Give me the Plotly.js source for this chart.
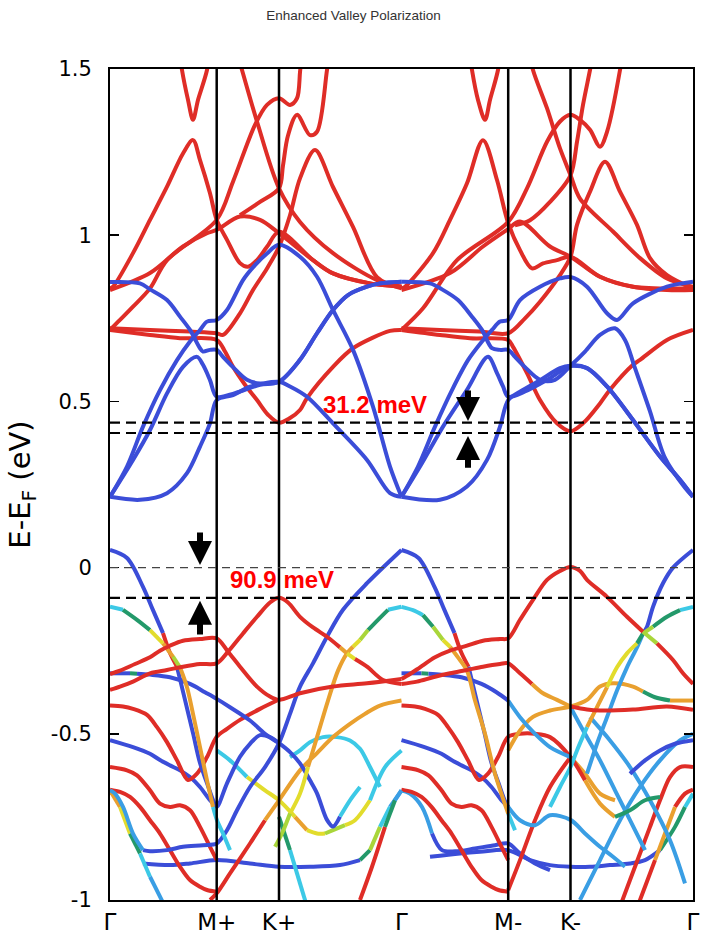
<!DOCTYPE html>
<html><head><meta charset="utf-8">
<script src="https://cdn.plot.ly/plotly-3.0.1.min.js"></script>
<style>html,body{margin:0;padding:0;background:#fff}#chart{width:707px;height:942px}</style>
</head><body><div id="chart"></div>
<script>
// ---- axis data ----
const kTicks = [0, 106.7, 169, 291.5, 398.2, 460.5, 583];
const kLabels = ['Γ', 'M+', 'K+', 'Γ', 'M-', 'K-', 'Γ'];
const kVertical = [106.7, 169, 398.2, 460.5];
const eTicks = [-1, -0.5, 0, 0.5, 1, 1.5];
const eTickText = ['-1', '-0.5', '0', '0.5', '1', '1.5'];
const eFermi = 0.0;
const eVBK = -0.0909;
const eCBKp = 0.436;
const eCBKm = 0.405;

// ---- bands: k (path coordinate), E (eV), w (projection weight 0..10) ----
// upper, left half
const bBL1_k = [0,30,57,77,90,100,106.7,123,140,169,180,197,223,257,280,291.5];
const bBL1_e = [0.213,0.204,0.224,0.284,0.364,0.434,0.504,0.519,0.544,0.559,0.545,0.514,0.434,0.324,0.224,0.213];
const bBL2_k = [0,23,40,57,73,87,93,100,106.7,125,150,169,190,207,223,238,257,270,291.5];
const bBL2_e = [0.213,0.324,0.414,0.524,0.604,0.634,0.61,0.564,0.514,0.525,0.55,0.559,0.625,0.705,0.775,0.82,0.845,0.855,0.86];
const bBL3_k = [0,17,33,50,67,80,90,97,106.7,117,133,145,157,169,190,207,223,243,263,280,291.5];
const bBL3_e = [0.213,0.304,0.424,0.534,0.624,0.68,0.715,0.74,0.745,0.775,0.865,0.91,0.945,0.971,0.935,0.875,0.775,0.655,0.484,0.304,0.213];
const bBL4_k = [0,30,40,57,70,80,90,93,100,106.7,113,123,137,150,169,190,207,223,238,257,270,291.5];
const bBL4_e = [0.859,0.855,0.837,0.805,0.755,0.715,0.66,0.65,0.655,0.655,0.634,0.603,0.565,0.554,0.559,0.625,0.705,0.775,0.82,0.845,0.855,0.86];
const bS1_k = [0,40,70,106.7,115,123,135,147,158,169,180,190,197,223,243,280,291.5];
const bS1_e = [0.715,0.70,0.69,0.685,0.65,0.604,0.55,0.504,0.46,0.436,0.45,0.474,0.51,0.604,0.66,0.712,0.715];
const bS2_k = [0,40,80,106.7,113,130,143,157,169,180,190,205,223,243,267,291.5];
const bS2_e = [0.72,0.715,0.71,0.705,0.70,0.765,0.835,0.90,0.965,1.06,1.171,1.256,1.145,1.025,0.874,0.84];
const bS3_k = [0,3,23,40,57,73,83,90,100,106.7,117,130,138,147,157,169,203,223,260,291.5];
const bS3_e = [0.84,0.845,0.946,1.046,1.146,1.246,1.286,1.226,1.126,1.046,0.986,0.916,0.905,0.925,0.965,1.01,0.925,0.885,0.855,0.845];
const bS4_k = [0,40,73,97,106.7,130,150,169,203,223,260,291.5];
const bS4_e = [0.835,0.886,0.966,1.006,1.016,1.056,1.046,1.006,0.925,0.885,0.855,0.845];
const bS5_k = [0,10,23,40,57,106.7,123,145,157,169,180,187,190,192];
const bS5_e = [0.715,0.745,0.785,0.84,0.925,1.046,1.161,1.332,1.392,1.412,1.392,1.412,1.49,1.56];
const bS6_k = [68,72,78,83,88,97,101];
const bS6_e = [1.587,1.497,1.407,1.347,1.407,1.497,1.587];
const bS7_k = [125,132,147,169,190,223,267,291.5];
const bS7_e = [1.57,1.497,1.342,1.141,1.04,0.946,0.865,0.845];
const bS8_k = [130,150,169,173,178,187,200,207,217,220];
const bS8_e = [1.06,1.10,1.141,1.21,1.30,1.362,1.301,1.311,1.497,1.56];
// upper, right half
const bBR1_k = [291.5,330,357,377,390,398.2,410,430,450,460.5,477,497,523,550,570,583];
const bBR1_e = [0.213,0.204,0.244,0.324,0.424,0.504,0.529,0.564,0.60,0.607,0.60,0.545,0.444,0.334,0.264,0.213];
const bBR2_k = [291.5,310,333,357,378,387,393,398.2,415,440,460.5,477,497,523,550,570,583];
const bBR2_e = [0.213,0.304,0.424,0.535,0.634,0.585,0.545,0.514,0.53,0.57,0.607,0.60,0.545,0.444,0.334,0.264,0.213];
const bBR3_k = [291.5,308,325,342,358,372,382,390,398.2,410,430,450,460.5,477,497,507,523,557,583];
const bBR3_e = [0.213,0.304,0.424,0.534,0.624,0.68,0.715,0.74,0.745,0.805,0.845,0.87,0.874,0.845,0.765,0.745,0.795,0.845,0.86];
const bBR4_k = [291.5,320,332,348,362,372,382,390,398.2,405,415,430,445,460.5,475,490,505,515,525,540,555,575,583];
const bBR4_e = [0.86,0.855,0.837,0.805,0.755,0.715,0.66,0.655,0.655,0.634,0.603,0.565,0.565,0.607,0.65,0.70,0.72,0.685,0.60,0.47,0.33,0.24,0.213];
const bRR1_k = [291.5,330,360,398.2,403,417,430,447,460.5,473,490,500,523,530,557,583];
const bRR1_e = [0.715,0.70,0.69,0.685,0.664,0.585,0.504,0.434,0.41,0.434,0.494,0.535,0.61,0.625,0.685,0.715];
const bRR2_k = [291.5,330,370,398.2,415,430,450,460.5,467,480,495,510,527,540,557,583];
const bRR2_e = [0.72,0.715,0.71,0.705,0.75,0.80,0.88,0.935,1.031,1.131,1.221,1.131,1.031,0.931,0.88,0.84];
const bRR3_k = [291.5,295,323,340,357,373,387,398.2,410,422,433,447,460.5,490,523,557,583];
const bRR3_e = [0.84,0.845,0.946,1.046,1.156,1.286,1.166,1.036,0.955,0.90,0.915,0.925,0.935,0.875,0.845,0.835,0.835];
const bRR4_k = [291.5,340,373,397,410,440,460.5,490,523,583];
const bRR4_e = [0.835,0.886,0.966,1.016,1.041,0.966,0.935,0.875,0.845,0.84];
const bRR5_k = [291.5,313,347,398.2,417,437,450,460.5,470,480,490,497,510,513];
const bRR5_e = [0.715,0.78,0.925,1.04,1.141,1.281,1.342,1.362,1.347,1.317,1.266,1.311,1.497,1.56];
const bRR6_k = [358,362,368,375,380,388,392];
const bRR6_e = [1.587,1.497,1.407,1.347,1.407,1.497,1.587];
const bRR7_k = [418,423,437,450,460.5,470,503,530,557,583];
const bRR7_e = [1.57,1.497,1.382,1.261,1.181,1.11,1.011,0.931,0.87,0.845];
const bRR8_k = [405,420,440,460.5,467,473,480,484];
const bRR8_e = [1.03,1.045,1.10,1.18,1.281,1.392,1.497,1.56];

// lower, left half
const bLa_k = [0,10,23,40,57,73,90,106.7,118,133,147,160,169,178,190,203,217,230,237,245,257,273,291.5];
const bLa_e = [-0.368,-0.358,-0.343,-0.318,-0.308,-0.298,-0.29,-0.288,-0.253,-0.198,-0.148,-0.105,-0.091,-0.105,-0.148,-0.18,-0.208,-0.24,-0.258,-0.275,-0.298,-0.338,-0.35];
const bLa_w = [10,10,10,10,10,10,10,10,10,10,10,10,10,10,10,10,10,8,7,10,10,10,10];
const bLb_k = [0,10,25,40,50,60,73,90,106.7,118,130,147,160,169,190,223,257,291.5];
const bLb_e = [-0.32,-0.31,-0.29,-0.27,-0.25,-0.235,-0.22,-0.215,-0.213,-0.253,-0.298,-0.358,-0.388,-0.398,-0.378,-0.358,-0.348,-0.335];
const bLc_k = [0,13,27,40,53,63,70,77,83,90,97,103,107,113,120];
const bLc_e = [-0.118,-0.127,-0.157,-0.188,-0.228,-0.268,-0.30,-0.36,-0.44,-0.54,-0.64,-0.72,-0.76,-0.80,-0.85];
const bLc_w = [3,5,5,7,8,6,8,8,8,8,8,3,3,3,3];
const bLc2_k = [291.5,278,268,258,250,243,237,228,218,208,198,190,180,172,165];
const bLc2_e = [-0.118,-0.127,-0.157,-0.188,-0.218,-0.238,-0.258,-0.31,-0.40,-0.50,-0.60,-0.68,-0.74,-0.80,-0.84];
const bLc2_w = [3,5,5,6,7,8,8,8,8,8,7,7,6,6,6];
const bL1_k = [0,17,33,43,53,60,67,75,83,90,97,103,106.7,117,130,140,150,160,169,180,190,200,207,217,223,230,240,250];
const bL1_e = [0.053,0.029,-0.058,-0.128,-0.197,-0.257,-0.298,-0.398,-0.498,-0.588,-0.648,-0.699,-0.72,-0.649,-0.569,-0.53,-0.504,-0.51,-0.528,-0.555,-0.589,-0.64,-0.679,-0.759,-0.779,-0.749,-0.70,-0.66];
const bL1_w = [0,0,0,0,10,10,0,0,0,0,0,0,0,0,0,0,0,0,0,0,0,0,0,0,0,3,3,3];
const bL2_k = [291.5,257,233,217,203,190,180,169,155,140,127,117,106.7,93,73,57,40,33,23,13,5,0];
const bL2_e = [0.053,-0.047,-0.127,-0.208,-0.288,-0.358,-0.44,-0.528,-0.60,-0.66,-0.73,-0.79,-0.83,-0.835,-0.84,-0.85,-0.853,-0.85,-0.80,-0.72,-0.68,-0.67];
const bL2_w = [0,0,0,0,0,0,0,0,0,0,0,0,0,0,0,0,0,2,2,2,2,2];
const bLo_k = [0,20,27,40,60,80,95,106.7,120,140,155,169];
const bLo_e = [-0.318,-0.318,-0.319,-0.322,-0.33,-0.35,-0.375,-0.395,-0.42,-0.46,-0.50,-0.528];
const bLo_w = [0,5,0,0,0,0,0,0,0,0,0,0];
const bLd_k = [0,23,40,50,60,70,80,90,100,106.7];
const bLd_e = [-0.519,-0.54,-0.56,-0.579,-0.595,-0.61,-0.63,-0.66,-0.70,-0.72];
const bLe_k = [0,13,23,37,47,57,67,78,87,97,106.7,117,130,150,167];
const bLe_e = [-0.415,-0.418,-0.425,-0.443,-0.48,-0.525,-0.58,-0.639,-0.62,-0.57,-0.509,-0.485,-0.458,-0.425,-0.40];
const bLf_k = [0,17,27,40,50,60,70,80,90,100,106.7];
const bLf_e = [-0.60,-0.61,-0.625,-0.67,-0.71,-0.72,-0.715,-0.73,-0.78,-0.84,-0.88];
const bLg_k = [0,10,20,30,40,50,60,70,80,90,97,106.7];
const bLg_e = [-0.668,-0.675,-0.69,-0.72,-0.76,-0.80,-0.85,-0.90,-0.94,-0.96,-0.97,-0.975];
const bLh_k = [0,10,20,30,40,45,50,55];
const bLh_e = [-0.67,-0.72,-0.80,-0.86,-0.93,-0.96,-0.99,-1.02];
const bLh_w = [8,7,5,3,2,2,2,2];
const bLi_k = [33,60,80,106.7,140,169,200,230,250,260,270,280,291.5];
const bLi_e = [-0.89,-0.895,-0.89,-0.88,-0.89,-0.90,-0.90,-0.895,-0.88,-0.85,-0.78,-0.72,-0.67];
const bLi_w = [0,0,0,0,0,0,0,0,5,6,3,2,2];
const bLj_k = [100,106.7,120,140,155,169,190,207,223,240,255,270,291.5];
const bLj_e = [-1.0,-0.98,-0.92,-0.83,-0.76,-0.70,-0.61,-0.558,-0.51,-0.47,-0.44,-0.415,-0.40];
const bLj_w = [10,10,10,10,8,8,8,8,8,8,8,8,8];
const bLk_k = [106.7,120,137,155,169,185,197,207,215,223,235,245,260,275,291.5];
const bLk_e = [-0.55,-0.58,-0.63,-0.67,-0.70,-0.75,-0.79,-0.80,-0.80,-0.79,-0.775,-0.76,-0.70,-0.60,-0.55];
const bLk_w = [3,3,7,7,7,8,7,7,6,6,7,7,3,3,3];
const bLl_k = [180,190,200,213,227,240,250,260,270];
const bLl_e = [-0.57,-0.55,-0.525,-0.51,-0.51,-0.52,-0.545,-0.60,-0.66];
const bLm_k = [169,180,190,200];
const bLm_e = [-0.75,-0.85,-0.95,-1.05];
const bLm_w = [5,3,3,3];
const bLn_k = [250,262,275,285,291.5];
const bLn_e = [-1.0,-0.9,-0.78,-0.7,-0.67];
const bLn_w = [10,10,5,2,2];

// lower, right half
const bRa_k = [291.5,307,323,340,357,373,390,398.2,410,422,433,447,460.5,477,490,523,557,583];
const bRa_e = [-0.35,-0.343,-0.33,-0.318,-0.308,-0.298,-0.29,-0.288,-0.318,-0.35,-0.378,-0.398,-0.418,-0.427,-0.43,-0.427,-0.418,-0.428];
const bRa_w = [10,10,10,10,10,10,10,10,10,8,8,8,10,10,10,10,10,10];
const bRb_k = [291.5,300,310,325,340,357,373,390,398.2,410,423,437,450,460.5,470,477,497,517,533,547,563,573,583];
const bRb_e = [-0.335,-0.32,-0.30,-0.27,-0.25,-0.235,-0.22,-0.215,-0.213,-0.157,-0.097,-0.037,-0.01,0.002,-0.01,-0.037,-0.088,-0.148,-0.193,-0.228,-0.278,-0.318,-0.35];
const bRb_w = [10,10,10,10,10,10,10,10,10,10,10,10,10,10,10,10,10,10,6,10,10,10,10];
const bRc_k = [291.5,303,313,323,333,340,348,357,365,375,385,398.2,405];
const bRc_e = [-0.118,-0.128,-0.143,-0.178,-0.218,-0.238,-0.27,-0.31,-0.40,-0.50,-0.62,-0.74,-0.79];
const bRc_w = [3,3,5,6,7,8,8,8,8,8,8,3,3];
const bRc2_k = [583,570,557,543,533,527,517,507,497,487,477,467,460.5,450,440];
const bRc2_e = [-0.118,-0.128,-0.148,-0.178,-0.198,-0.228,-0.258,-0.30,-0.36,-0.42,-0.48,-0.55,-0.60,-0.66,-0.72];
const bRc2_w = [3,5,5,6,5,7,7,7,8,8,3,3,3,3,3];
const bR1_k = [291.5,308.5,324.5,334.5,344.5,351.5,358.5,366.5,374.5,381.5,388.5,394.5,398.2,410,425,440,460.5,475,490,503,515];
const bR1_e = [0.053,0.029,-0.058,-0.128,-0.197,-0.257,-0.298,-0.398,-0.498,-0.588,-0.648,-0.699,-0.72,-0.76,-0.775,-0.745,-0.759,-0.80,-0.84,-0.87,-0.90];
const bR1_w = [0,0,0,0,10,10,0,0,0,0,0,0,2,2,2,2,2,2,2,2,2];
const bR2_k = [583,563,553,543,537,533,527,517,507,497,487,477];
const bR2_e = [0.053,0.0,-0.047,-0.118,-0.178,-0.198,-0.24,-0.30,-0.37,-0.45,-0.53,-0.62];
const bR2_w = [0,0,0,0,0,2,2,2,2,2,2,2];
const bR3_k = [291.5,300,312,322,332,348,365,385,398.2,410,425,440];
const bR3_e = [-0.67,-0.68,-0.72,-0.80,-0.85,-0.853,-0.845,-0.835,-0.83,-0.86,-0.89,-0.91];
const bR3_w = [2,2,2,0,0,0,0,0,0,0,0,0];
const bRo_k = [291.5,311.5,318.5,331.5,351.5,371.5,386.5,398.2,410,425,440,460.5];
const bRo_e = [-0.318,-0.318,-0.319,-0.322,-0.33,-0.35,-0.375,-0.40,-0.45,-0.50,-0.54,-0.57];
const bRo_w = [0,5,0,0,0,0,0,2,2,2,2,2];
const bRd_k = [398.2,410,423,440,460.5,477,490,503,523,533,545,560,575,583];
const bRd_e = [-0.55,-0.49,-0.449,-0.43,-0.418,-0.398,-0.358,-0.348,-0.358,-0.373,-0.39,-0.40,-0.40,-0.40];
const bRd_w = [8,8,8,8,8,8,8,8,8,5,5,8,8,8];
const bRe_k = [291.5,305,315,328,338,348,358,369,378,388,398.2,410,425,440,460.5,475,490,505,520,535,550];
const bRe_e = [-0.415,-0.418,-0.425,-0.443,-0.48,-0.525,-0.58,-0.639,-0.62,-0.57,-0.509,-0.50,-0.50,-0.51,-0.57,-0.64,-0.71,-0.75,-0.73,-0.70,-0.69];
const bRe_w = [10,10,10,10,10,10,10,10,10,10,10,10,10,10,10,8,8,5,5,5,5];
const bRf_k = [583,570,560,550,540,530,520,510];
const bRf_e = [-0.60,-0.60,-0.63,-0.70,-0.78,-0.86,-0.94,-1.02];
const bRg_k = [583,575,565,555,545,535,525];
const bRg_e = [-0.668,-0.68,-0.72,-0.80,-0.88,-0.96,-1.04];
const bRg_w = [10,10,8,8,10,10,10];
const bRf2_k = [291.5,308.5,318.5,331.5,341.5,351.5,361.5,371.5,381.5,391.5,398.2];
const bRf2_e = [-0.60,-0.61,-0.625,-0.67,-0.71,-0.72,-0.715,-0.73,-0.78,-0.84,-0.88];
const bRg2_k = [291.5,301.5,311.5,321.5,331.5,341.5,351.5,361.5,371.5,381.5,388.5,398.2];
const bRg2_e = [-0.668,-0.675,-0.69,-0.72,-0.76,-0.80,-0.85,-0.90,-0.94,-0.96,-0.97,-0.975];
const bRi_k = [320,350,370,398.2,420,440,460.5,480,500,520,535,550,565,575,583];
const bRi_e = [-0.87,-0.86,-0.855,-0.85,-0.88,-0.895,-0.90,-0.90,-0.895,-0.89,-0.88,-0.85,-0.78,-0.72,-0.68];
const bRi_w = [0,0,0,0,0,0,0,0,0,0,0,5,5,3,2];
const bRj_k = [398.2,410,425,440,460.5,475,490,505];
const bRj_e = [-0.97,-0.88,-0.76,-0.66,-0.57,-0.62,-0.68,-0.70];
const bRj_w = [10,10,10,10,8,8,8,8];
const bRm1_k = [460.5,475,490,505,520,535];
const bRm1_e = [-0.42,-0.50,-0.58,-0.67,-0.76,-0.85];
const bRm2_k = [480,500,520,540,560,575];
const bRm2_e = [-0.45,-0.52,-0.60,-0.70,-0.82,-0.95];
const bRm3_k = [470,490,510,530,550,570,583];
const bRm3_e = [-1.0,-0.88,-0.76,-0.66,-0.58,-0.52,-0.50];
const bRn_k = [583,565,550,535,520];
const bRn_e = [-0.519,-0.53,-0.55,-0.58,-0.62];
const bLd2_k = [291.5,314.5,331.5,341.5,351.5,361.5,371.5,381.5,391.5,398.2];
const bLd2_e = [-0.519,-0.54,-0.56,-0.579,-0.595,-0.61,-0.63,-0.66,-0.70,-0.72];

// ---- styles ----
const jet = {0:'#3b4dd8',2:'#3a9ee4',3:'#3cc9e6',5:'#23996a',6:'#a9d63a',7:'#e2dc2c',8:'#e9a02f',10:'#df2d27'};
const LW = 4;
const traces = [];
function addBand(k, e, w) {
  const n = k.length;
  const wa = Array.isArray(w) ? w : new Array(n).fill(w);
  let s = 0;
  for (let i = 1; i < n; i++) {
    if (i === n - 1 || wa[i] !== wa[s]) {
      traces.push({x: k.slice(s, i + 1), y: e.slice(s, i + 1), type: 'scatter', mode: 'lines',
        line: {color: jet[wa[s]], width: LW, shape: 'spline', smoothing: 0.9},
        hoverinfo: 'skip', showlegend: false});
      s = i;
    }
  }
}
// lower bands
addBand(bLi_k,bLi_e,bLi_w); addBand(bRi_k,bRi_e,bRi_w); addBand(bR3_k,bR3_e,bR3_w);
addBand(bLg_k,bLg_e,10); addBand(bRg_k,bRg_e,bRg_w); addBand(bRg2_k,bRg2_e,10);
addBand(bLf_k,bLf_e,10); addBand(bRf_k,bRf_e,10); addBand(bRf2_k,bRf2_e,10);
addBand(bLh_k,bLh_e,bLh_w); addBand(bLm_k,bLm_e,bLm_w); addBand(bLn_k,bLn_e,bLn_w);
addBand(bRm1_k,bRm1_e,2); addBand(bRm2_k,bRm2_e,2); addBand(bRm3_k,bRm3_e,2);
addBand(bLd_k,bLd_e,0); addBand(bLd2_k,bLd2_e,0); addBand(bRn_k,bRn_e,0);
addBand(bLl_k,bLl_e,3); addBand(bLk_k,bLk_e,bLk_w); addBand(bLj_k,bLj_e,bLj_w); addBand(bRj_k,bRj_e,bRj_w);
addBand(bLe_k,bLe_e,10); addBand(bRe_k,bRe_e,bRe_w); addBand(bRd_k,bRd_e,bRd_w);
addBand(bLo_k,bLo_e,bLo_w); addBand(bRo_k,bRo_e,bRo_w);
addBand(bL2_k,bL2_e,bL2_w); addBand(bL1_k,bL1_e,bL1_w); addBand(bR1_k,bR1_e,bR1_w); addBand(bR2_k,bR2_e,bR2_w);
addBand(bLc_k,bLc_e,bLc_w); addBand(bLc2_k,bLc2_e,bLc2_w); addBand(bRc_k,bRc_e,bRc_w); addBand(bRc2_k,bRc2_e,bRc2_w);
addBand(bLb_k,bLb_e,10); addBand(bLa_k,bLa_e,bLa_w); addBand(bRa_k,bRa_e,bRa_w); addBand(bRb_k,bRb_e,bRb_w);
// upper red
[[bS1_k,bS1_e],[bS2_k,bS2_e],[bS3_k,bS3_e],[bS4_k,bS4_e],[bS5_k,bS5_e],[bS6_k,bS6_e],[bS7_k,bS7_e],[bS8_k,bS8_e],
 [bRR1_k,bRR1_e],[bRR2_k,bRR2_e],[bRR3_k,bRR3_e],[bRR4_k,bRR4_e],[bRR5_k,bRR5_e],[bRR6_k,bRR6_e],[bRR7_k,bRR7_e],[bRR8_k,bRR8_e]]
 .forEach(b => addBand(b[0], b[1], 10));
// upper blue
[[bBL1_k,bBL1_e],[bBL2_k,bBL2_e],[bBL3_k,bBL3_e],[bBL4_k,bBL4_e],[bBR1_k,bBR1_e],[bBR2_k,bBR2_e],[bBR3_k,bBR3_e],[bBR4_k,bBR4_e]]
 .forEach(b => addBand(b[0], b[1], 0));

const shapes = [];
kVertical.forEach(k => shapes.push({type:'line', xref:'x', yref:'paper', x0:k, x1:k, y0:0, y1:1, line:{color:'#000', width:2.5}}));
shapes.push({type:'line', xref:'paper', yref:'y', x0:0, x1:1, y0:eFermi, y1:eFermi, line:{color:'#444', width:1.3, dash:'8px,6px'}});
[eVBK, eCBKp, eCBKm].forEach(e => shapes.push({type:'line', xref:'paper', yref:'y', x0:0, x1:1, y0:e, y1:e, line:{color:'#000', width:2.2, dash:'10px,6px'}}));

function arrow(k, eTip, eTail) {
  return {x:k, y:eTip, ax:k, ay:eTail, xref:'x', yref:'y', axref:'x', ayref:'y', showarrow:true,
    arrowhead:2, arrowsize:0.8, arrowwidth:6, arrowcolor:'#000', text:''};
}
const annotations = [
  arrow(90, 0.008, 0.11), arrow(90, -0.10, -0.206),
  arrow(358, 0.441, 0.537), arrow(358, 0.396, 0.296),
  {x:172, y:-0.036, xref:'x', yref:'y', text:'<b>90.9 meV</b>', showarrow:false, font:{size:24, color:'#ff0000', family:'Liberation Sans, Arial, sans-serif'}},
  {x:265, y:0.492, xref:'x', yref:'y', text:'<b>31.2 meV</b>', showarrow:false, font:{size:24, color:'#ff0000', family:'Liberation Sans, Arial, sans-serif'}}
];

const layout = {
  width:707, height:942,
  margin:{l:110, r:14, t:69, b:42},
  paper_bgcolor:'#fff', plot_bgcolor:'#fff',
  title:{text:'Enhanced Valley Polarization', x:0.5, xanchor:'center', y:1-15/942, yanchor:'middle', yref:'container',
    font:{size:13.5, color:'#333', family:'Liberation Sans, Arial, sans-serif'}},
  font:{family:'DejaVu Sans, sans-serif', color:'#000'},
  xaxis:{range:[0,583], tickvals:kTicks, ticktext:kLabels, showgrid:false, zeroline:false, showline:true, mirror:true,
    linecolor:'#000', linewidth:2, ticks:'', tickfont:{size:23, color:'#000'}, fixedrange:true},
  yaxis:{range:[-1,1.5], tickvals:eTicks, ticktext:eTickText, showgrid:false, zeroline:false, showline:true, mirror:'ticks',
    linecolor:'#000', linewidth:2, ticks:'inside', ticklen:9, tickwidth:1.5, tickcolor:'#000', tickfont:{size:21, color:'#000'},
    ticklabelstandoff:12,
    title:{text:'E-E<sub>F</sub> (eV)', font:{size:29, color:'#000'}, standoff:12}},
  shapes:shapes, annotations:annotations, showlegend:false
};
Plotly.newPlot('chart', traces, layout, {staticPlot:true, displayModeBar:false});
</script></body></html>
